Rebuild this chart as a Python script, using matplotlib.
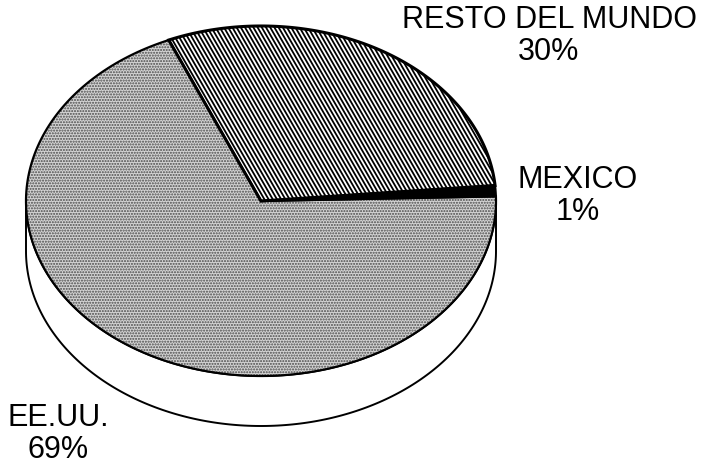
import numpy as np
import matplotlib.pyplot as plt
from matplotlib.patches import Polygon

# Data
labels = ["MEXICO", "RESTO DEL MUNDO", "EE.UU."]
shares = [1, 30, 69]
label_text = ["MEXICO\n1%", "RESTO DEL MUNDO\n30%", "EE.UU.\n69%"]
label_pos = [(578, 196), (549, 36), (58, 434)]

# geometry of the 3D pie (pixel space)
cx, cy = 261, 201
a, b = 235, 175
depth = 50
start = 1.5

plt.rcParams['font.family'] = ['Liberation Sans', 'DejaVu Sans']

fig = plt.figure(figsize=(7.04, 4.66), dpi=100)
ax = fig.add_axes([0, 0, 1, 1])
ax.set_xlim(0, 704)
ax.set_ylim(466, 0)
ax.axis('off')


def ell(t, dy=0):
    t = np.radians(t)
    return np.column_stack([cx + a * np.cos(t), cy + dy - b * np.sin(t)])


# side of the cylinder (front half)
t_front = np.linspace(180, 360, 200)
side = np.vstack([ell(t_front), ell(t_front[::-1], depth)])
ax.add_patch(Polygon(side, closed=True, facecolor='white', edgecolor='black', lw=1.4, zorder=1))

# slices on top face
bounds = start + np.concatenate([[0], np.cumsum(shares)]) * 3.6
styles = ['black', 'lines', 'dots']
for i, name in enumerate(labels):
    t = np.linspace(bounds[i], bounds[i + 1], 200)
    pts = np.vstack([[cx, cy], ell(t)])
    if styles[i] == 'black':
        ax.add_patch(Polygon(pts, closed=True, facecolor='black', edgecolor='black', lw=1.5, zorder=3))
    elif styles[i] == 'dots':
        ax.add_patch(Polygon(pts, closed=True, facecolor='#d4d4d4', edgecolor='#4a4a4a',
                             hatch='......', lw=0, zorder=2))
        ax.add_patch(Polygon(pts, closed=True, fill=False, edgecolor='black', lw=1.6, zorder=4))
    else:
        patch = Polygon(pts, closed=True, facecolor='white', edgecolor='none', zorder=2)
        ax.add_patch(patch)
        # steep diagonal stripes clipped to the slice
        for x0 in np.arange(0, 900, 4.2):
            ln, = ax.plot([x0 - 300, x0], [0, 520], color='black', lw=1.3, zorder=2.5)
            ln.set_clip_path(patch)
        ax.add_patch(Polygon(pts, closed=True, fill=False, edgecolor='black', lw=2.2, zorder=4))

for txt, (x, y) in zip(label_text, label_pos):
    ax.text(x, y, txt, ha='center', va='center', fontsize=22, linespacing=1.05, color='black')

fig.savefig('out.png', dpi=100)
